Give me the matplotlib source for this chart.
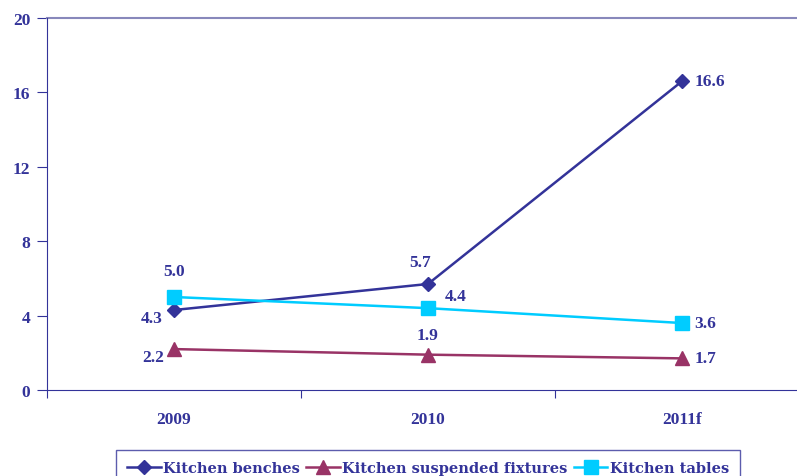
import matplotlib
matplotlib.use('Agg')
import matplotlib.pyplot as plt

years = ['2009', '2010', '2011f']
benches = [4.3, 5.7, 16.6]
suspended = [2.2, 1.9, 1.7]
tables = [5.0, 4.4, 3.6]

navy = '#333399'
plum = '#993366'
cyan = '#00CCFF'

plt.rcParams['font.family'] = ['Liberation Serif', 'DejaVu Serif']
plt.rcParams['font.weight'] = 'bold'

W, H = 797, 477
fig = plt.figure(figsize=(W / 100, H / 100), dpi=100)
# plot area runs past the right edge of the picture, like the original
ax = fig.add_axes([47 / W, 1 - 391 / H, (809 - 47) / W, (391 - 19) / H])

x = list(range(len(years)))
ax.plot(x, benches, color=navy, lw=1.8, marker='D', ms=7, label='Kitchen benches')
ax.plot(x, suspended, color=plum, lw=1.8, marker='^', ms=10, label='Kitchen suspended fixtures')
ax.plot(x, tables, color=cyan, lw=1.8, marker='s', ms=10.5, label='Kitchen tables')

ax.set_xlim(-0.5, 2.5)
ax.set_ylim(0, 20)
ax.set_yticks([0, 4, 8, 12, 16, 20])
ax.set_xticks([-0.5, 0.5, 1.5, 2.5])
ax.set_xticklabels([])
ax.set_xticks(x, minor=True)
ax.set_xticklabels(years, minor=True)
ax.tick_params(axis='x', which='minor', length=0, pad=15, labelsize=12.5, labelcolor=navy)
ax.tick_params(axis='x', which='major', length=6, color=navy, direction='out')
ax.tick_params(axis='y', length=7, color=navy, labelsize=12.5, labelcolor=navy, pad=5)
for lab in ax.get_yticklabels() + ax.get_xticklabels(minor=True):
    lab.set_fontweight('bold')

for s in ['top', 'right']:
    ax.spines[s].set_visible(False)
ax.spines['left'].set_color(navy)
ax.spines['bottom'].set_color(navy)
ax.axhline(20, color='#8888BB', lw=1.5, clip_on=False)

# value labels: (series, index, dx, dy, ha)
offsets = [
    (benches, 0, -16, -6, 'center'), (benches, 1, -6, 16, 'center'), (benches, 2, 9, 0, 'left'),
    (suspended, 0, -15, -6, 'center'), (suspended, 1, 0, 14, 'center'), (suspended, 2, 9, 0, 'left'),
    (tables, 0, 0, 19, 'center'), (tables, 1, 20, 9, 'center'), (tables, 2, 9, 0, 'left'),
]
for series, i, dx, dy, ha in offsets:
    ax.annotate('%.1f' % series[i], (x[i], series[i]), xytext=(dx, dy),
                textcoords='offset points', ha=ha, va='center',
                fontsize=12.5, fontweight='bold', color=navy)

leg = fig.legend(loc='upper center', bbox_to_anchor=(428 / W, 1 - 451 / H), ncol=3,
                 prop={'family': 'DejaVu Serif', 'weight': 'bold', 'size': 10.5},
                 frameon=True, fancybox=False, handlelength=2.3,
                 handletextpad=0.15, columnspacing=0.45, borderpad=0.75, borderaxespad=0)
leg.get_frame().set_edgecolor(navy)
leg.get_frame().set_linewidth(1.0)
for t in leg.get_texts():
    t.set_color(navy)

fig.savefig('out.png', dpi=100)
